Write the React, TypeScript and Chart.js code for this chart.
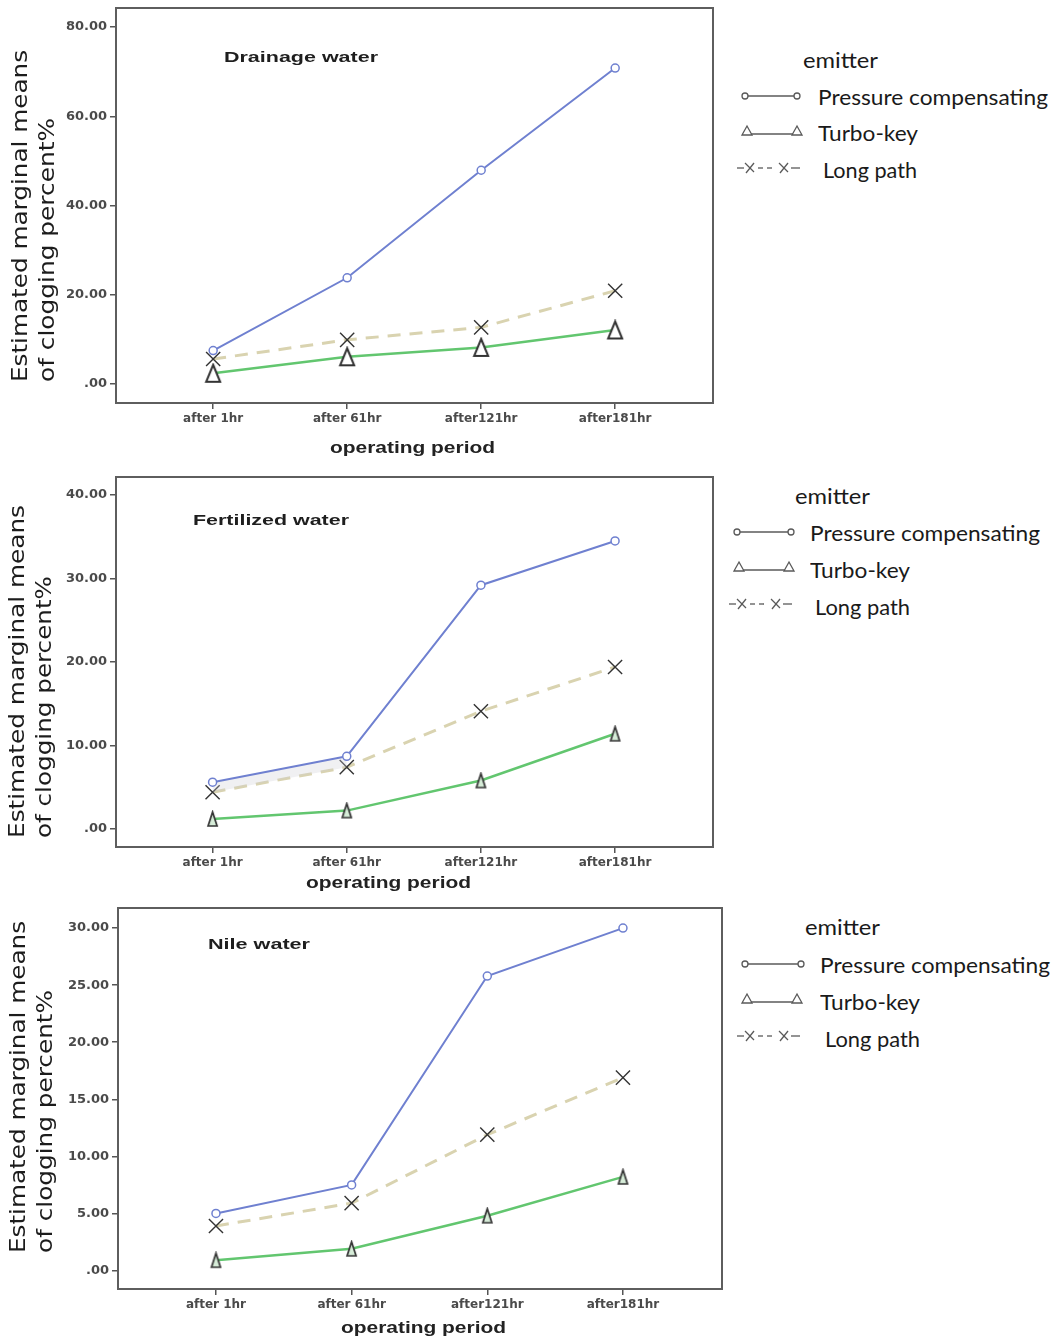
import React, { useEffect, useRef } from 'react';
import { Chart, registerables } from 'chart.js';

Chart.register(...registerables);

// ---------- data ----------
const categories = ['after 1hr', 'after 61hr', 'after121hr', 'after181hr'];
const seriesNames = ['Pressure compensating', 'Turbo-key', 'Long path'];
const legendTitle = 'emitter';
const xAxisTitle = 'operating period';
const yAxisTitleLines = ['Estimated marginal means', 'of clogging percent%'];

const drainagePressure = [7.5, 23.8, 47.9, 70.8];
const drainageTurbo = [2.4, 6.1, 8.2, 12.1];
const drainageLong = [5.6, 9.9, 12.7, 20.9];
const drainageTicks = [0, 20, 40, 60, 80];

const fertilizedPressure = [5.6, 8.7, 29.2, 34.5];
const fertilizedTurbo = [1.2, 2.2, 5.8, 11.4];
const fertilizedLong = [4.4, 7.4, 14.1, 19.4];
const fertilizedTicks = [0, 10, 20, 30, 40];

const nilePressure = [5.0, 7.5, 25.8, 30.0];
const nileTurbo = [0.9, 1.9, 4.8, 8.2];
const nileLong = [3.9, 5.9, 11.9, 16.9];
const nileTicks = [0, 5, 10, 15, 20, 25, 30];

// ---------- layout / styles ----------
const PAGE_W = 1064;
const PAGE_H = 1341;
const CANVAS_W = 730;

const panels = [
  {
    title: 'Drainage water',
    pressure: drainagePressure, turbo: drainageTurbo, long: drainageLong, yTicks: drainageTicks,
    yMin: -4.26, yMax: 84.26, xMin: -0.725, xMax: 3.73,
    canvasTop: 0, canvasHeight: 465,
    frame: { left: 116, top: 8, right: 713, bottom: 403 },
    tri: { w: 14, h: 17, fill: '#ffffff', lw: 2 },
    shadeFirstGap: false,
    titlePos: { left: 224, cy: 57, width: 154 },
    xTitlePos: { left: 330, cy: 448, width: 165 },
    yTitlePos: [{ cx: 20, bottom: 382, len: 332 }, { cx: 47, bottom: 382, len: 264 }],
    legend: {
      title: { left: 803, cy: 60, width: 75 },
      rows: [
        { left: 818, cy: 97, width: 230, sy: 96, x0: 745, x1: 797 },
        { left: 818, cy: 133, width: 100, sy: 131, x0: 747, x1: 797 },
        { left: 823, cy: 170, width: 94, sy: 168, x0: 737, x1: 800 },
      ],
    },
  },
  {
    title: 'Fertilized water',
    pressure: fertilizedPressure, turbo: fertilizedTurbo, long: fertilizedLong, yTicks: fertilizedTicks,
    yMin: -2.16, yMax: 42.16, xMin: -0.72, xMax: 3.73,
    canvasTop: 465, canvasHeight: 435,
    frame: { left: 116, top: 477, right: 713, bottom: 847 },
    tri: { w: 9, h: 14, fill: '#d6ecd8', lw: 1.7 },
    shadeFirstGap: true,
    titlePos: { left: 193, cy: 520, width: 156 },
    xTitlePos: { left: 306, cy: 883, width: 165 },
    yTitlePos: [{ cx: 17, bottom: 838, len: 333 }, { cx: 44, bottom: 838, len: 262 }],
    legend: {
      title: { left: 795, cy: 496, width: 75 },
      rows: [
        { left: 810, cy: 533, width: 230, sy: 532, x0: 737, x1: 791 },
        { left: 810, cy: 570, width: 100, sy: 567, x0: 739, x1: 789 },
        { left: 815, cy: 607, width: 95, sy: 604, x0: 729, x1: 792 },
      ],
    },
  },
  {
    title: 'Nile water',
    pressure: nilePressure, turbo: nileTurbo, long: nileLong, yTicks: nileTicks,
    yMin: -1.62, yMax: 31.76, xMin: -0.722, xMax: 3.73,
    canvasTop: 900, canvasHeight: 441,
    frame: { left: 118, top: 908, right: 722, bottom: 1289 },
    tri: { w: 9, h: 14, fill: '#d6ecd8', lw: 1.7 },
    shadeFirstGap: false,
    titlePos: { left: 208, cy: 944, width: 102 },
    xTitlePos: { left: 341, cy: 1328, width: 165 },
    yTitlePos: [{ cx: 18, bottom: 1253, len: 332 }, { cx: 45, bottom: 1253, len: 263 }],
    legend: {
      title: { left: 805, cy: 927, width: 75 },
      rows: [
        { left: 820, cy: 965, width: 230, sy: 964, x0: 745, x1: 801 },
        { left: 820, cy: 1002, width: 100, sy: 999, x0: 747, x1: 797 },
        { left: 825, cy: 1039, width: 95, sy: 1036, x0: 737, x1: 800 },
      ],
    },
  },
];

const COLOR_PC = '#6f80d0';
const COLOR_TK = '#62c66f';
const COLOR_LP = '#d9d3b0';
const SHADE = 'rgba(205,205,212,0.3)';
const MARK_DARK = '#333333';
const X_TICK_FONT = { family: 'DejaVu Sans', size: 12, weight: 'bold' as const };
const Y_TICK_FONT = { family: 'DejaVu Sans', size: 13, weight: 'bold' as const };
const TICK_COLOR = '#4a4a4a';

// ---------- helpers ----------
let measureCtx: CanvasRenderingContext2D | null = null;
function measure(text: string, font: string): number {
  if (!measureCtx) measureCtx = document.createElement('canvas').getContext('2d');
  measureCtx!.font = font;
  return measureCtx!.measureText(text).width || 1;
}

function HText({ text, left, cy, width, family, size, weight, color }: any) {
  const font = `${weight} ${size}px "${family}"`;
  const sx = width / measure(text, font);
  return (
    <div
      style={{
        position: 'absolute', left, top: cy - 20, height: 40, lineHeight: '40px',
        fontFamily: `"${family}"`, fontSize: size, fontWeight: weight, color,
        whiteSpace: 'nowrap', transformOrigin: '0 50%', transform: `scaleX(${sx})`,
      }}
    >
      {text}
    </div>
  );
}

function VText({ text, cx, bottom, len, family, size, weight, color }: any) {
  const font = `${weight} ${size}px "${family}"`;
  const sx = len / measure(text, font);
  return (
    <div
      style={{
        position: 'absolute', left: cx - 20, top: bottom, height: 40, lineHeight: '40px',
        fontFamily: `"${family}"`, fontSize: size, fontWeight: weight, color,
        whiteSpace: 'nowrap', transformOrigin: '0 0', transform: `rotate(-90deg) scaleX(${sx})`,
      }}
    >
      {text}
    </div>
  );
}

function triangleMarker(w: number, h: number, fill: string, lw: number) {
  const c = document.createElement('canvas');
  c.width = w + 4;
  c.height = h + 4;
  const g = c.getContext('2d')!;
  g.beginPath();
  g.moveTo(c.width / 2, 2);
  g.lineTo(c.width - 2, h + 2);
  g.lineTo(2, h + 2);
  g.closePath();
  g.fillStyle = fill;
  g.fill();
  g.strokeStyle = MARK_DARK;
  g.lineWidth = lw;
  g.lineJoin = 'miter';
  g.stroke();
  return c;
}

const framePlugin = {
  id: 'frameBox',
  beforeDatasetsDraw(chart: any) {
    const { ctx, chartArea: a } = chart;
    ctx.save();
    ctx.strokeStyle = '#5e5e5e';
    ctx.lineWidth = 2;
    ctx.strokeRect(a.left, a.top, a.right - a.left, a.bottom - a.top);
    ctx.restore();
  },
};

function toPoints(values: number[]) {
  return values.map((v, i) => ({ x: i, y: v }));
}

function Panel({ p }: { p: any }) {
  const ref = useRef<HTMLCanvasElement>(null);
  useEffect(() => {
    const canvas = ref.current!;
    const f = p.frame;
    const pcDataset: any = {
      label: seriesNames[0],
      data: toPoints(p.pressure),
      borderColor: COLOR_PC,
      borderWidth: 2,
      pointStyle: 'circle',
      pointRadius: 4,
      pointBorderWidth: 1.5,
      pointBorderColor: COLOR_PC,
      pointBackgroundColor: '#ffffff',
      tension: 0,
    };
    if (p.shadeFirstGap) {
      pcDataset.fill = { target: 2 };
      pcDataset.backgroundColor = 'rgba(0,0,0,0)';
      pcDataset.segment = {
        backgroundColor: (c: any) => (c.p0DataIndex === 0 ? SHADE : 'rgba(0,0,0,0)'),
      };
    }
    const chart = new Chart(canvas, {
      type: 'line',
      data: {
        datasets: [
          pcDataset,
          {
            label: seriesNames[1],
            data: toPoints(p.turbo),
            borderColor: COLOR_TK,
            borderWidth: 2.5,
            pointStyle: triangleMarker(p.tri.w, p.tri.h, p.tri.fill, p.tri.lw),
            pointRadius: 5,
            tension: 0,
          },
          {
            label: seriesNames[2],
            data: toPoints(p.long),
            borderColor: COLOR_LP,
            borderWidth: 3,
            borderDash: [13, 9],
            pointStyle: 'crossRot',
            pointRadius: 10,
            pointBorderWidth: 1.4,
            pointBorderColor: MARK_DARK,
            tension: 0,
          },
        ],
      } as any,
      options: {
        animation: false,
        responsive: false,
        events: [],
        layout: {
          autoPadding: false,
          padding: { left: 0, top: f.top - p.canvasTop, right: CANVAS_W - f.right, bottom: 0 },
        },
        plugins: {
          legend: { display: false },
          tooltip: { enabled: false },
          title: { display: false },
          filler: { propagate: false },
        },
        scales: {
          x: {
            type: 'linear',
            min: p.xMin,
            max: p.xMax,
            afterBuildTicks: (s: any) => {
              s.ticks = categories.map((_, i) => ({ value: i }));
            },
            afterFit: (s: any) => {
              s.height = p.canvasTop + p.canvasHeight - f.bottom;
              s.paddingLeft = 0;
              s.paddingRight = 0;
            },
            ticks: {
              autoSkip: false,
              maxRotation: 0,
              padding: 3,
              color: TICK_COLOR,
              font: X_TICK_FONT,
              callback: (v: any) => categories[Math.round(Number(v))] ?? '',
            },
            grid: { drawOnChartArea: false, drawTicks: true, tickLength: 6, color: '#555', lineWidth: 1.5 },
            border: { display: false },
          },
          y: {
            type: 'linear',
            min: p.yMin,
            max: p.yMax,
            afterBuildTicks: (s: any) => {
              s.ticks = p.yTicks.map((v: number) => ({ value: v }));
            },
            afterFit: (s: any) => {
              s.width = f.left;
              s.paddingTop = 0;
              s.paddingBottom = 0;
            },
            ticks: {
              padding: 3,
              color: TICK_COLOR,
              font: Y_TICK_FONT,
              callback: (v: any) => (Number(v) === 0 ? '.00' : Number(v).toFixed(2)),
            },
            grid: { drawOnChartArea: false, drawTicks: true, tickLength: 6, color: '#555', lineWidth: 1.5 },
            border: { display: false },
          },
        },
      } as any,
      plugins: [framePlugin],
    });
    return () => chart.destroy();
  }, [p]);
  return (
    <canvas
      ref={ref}
      width={CANVAS_W}
      height={p.canvasHeight}
      style={{ position: 'absolute', left: 0, top: p.canvasTop, width: CANVAS_W, height: p.canvasHeight }}
    />
  );
}

function LegendSymbols() {
  const stroke = '#5a5a5a';
  const els: any[] = [];
  panels.forEach((p, pi) => {
    const [r1, r2, r3] = p.legend.rows;
    els.push(<line key={`a${pi}`} x1={r1.x0} y1={r1.sy} x2={r1.x1} y2={r1.sy} stroke={stroke} strokeWidth={1.3} />);
    els.push(<circle key={`b${pi}`} cx={r1.x0} cy={r1.sy} r={3} fill="#fff" stroke={stroke} strokeWidth={1.3} />);
    els.push(<circle key={`c${pi}`} cx={r1.x1} cy={r1.sy} r={3} fill="#fff" stroke={stroke} strokeWidth={1.3} />);
    els.push(<line key={`d${pi}`} x1={r2.x0} y1={r2.sy + 3} x2={r2.x1} y2={r2.sy + 3} stroke={stroke} strokeWidth={1.3} />);
    [r2.x0, r2.x1].forEach((x, k) => {
      els.push(
        <polygon key={`e${pi}${k}`} points={`${x},${r2.sy - 5} ${x + 5},${r2.sy + 4} ${x - 5},${r2.sy + 4}`} fill="#fff" stroke={stroke} strokeWidth={1.3} />
      );
    });
    const x0 = r3.x0;
    const y = r3.sy;
    const segs = [[0, 7], [21, 26], [30, 35], [54, 63]];
    segs.forEach(([a, b], k) => {
      els.push(<line key={`f${pi}${k}`} x1={x0 + a} y1={y} x2={x0 + b} y2={y} stroke={stroke} strokeWidth={1.3} />);
    });
    [13, 47].forEach((c, k) => {
      els.push(<line key={`g${pi}${k}`} x1={x0 + c - 5} y1={y - 5} x2={x0 + c + 4} y2={y + 4} stroke={stroke} strokeWidth={1.3} />);
      els.push(<line key={`h${pi}${k}`} x1={x0 + c + 4} y1={y - 5} x2={x0 + c - 4} y2={y + 5} stroke={stroke} strokeWidth={1.3} />);
    });
  });
  return (
    <svg width={PAGE_W} height={PAGE_H} style={{ position: 'absolute', left: 0, top: 0, pointerEvents: 'none' }}>
      {els}
    </svg>
  );
}

export default function App() {
  const legendFont = { family: 'Lato', size: 22, weight: 400, color: '#1a1a1a' };
  return (
    <div style={{ position: 'absolute', left: 0, top: 0, width: PAGE_W, height: PAGE_H, background: '#ffffff', overflow: 'hidden' }}>
      {panels.map((p, i) => (
        <Panel key={i} p={p} />
      ))}
      {panels.map((p, i) => (
        <React.Fragment key={`t${i}`}>
          <HText text={p.title} {...p.titlePos} family="Liberation Sans" size={15} weight={700} color="#1e1e1e" />
          <HText text={xAxisTitle} {...p.xTitlePos} family="Liberation Sans" size={16} weight={700} color="#222" />
          {yAxisTitleLines.map((line, k) => (
            <VText key={k} text={line} {...p.yTitlePos[k]} family="DejaVu Sans" size={21} weight={400} color="#1c1c1c" />
          ))}
          <HText text={legendTitle} {...p.legend.title} {...legendFont} />
          {p.legend.rows.map((r, k) => (
            <HText key={k} text={seriesNames[k]} left={r.left} cy={r.cy} width={r.width} {...legendFont} />
          ))}
        </React.Fragment>
      ))}
      <LegendSymbols />
    </div>
  );
}
